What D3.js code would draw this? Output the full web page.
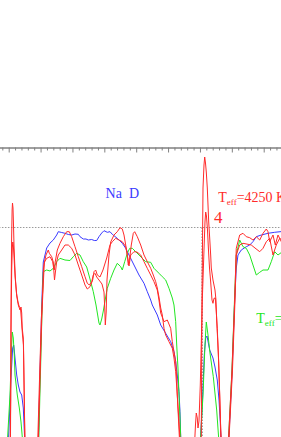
<!DOCTYPE html>
<html>
<head>
<meta charset="utf-8">
<script src="https://cdn.jsdelivr.net/npm/d3@7"></script>
<style>
  body { margin: 0; background: #fff; }
  svg { display: block; }
</style>
</head>
<body>
<svg id="chart" width="281" height="437"></svg>
<script>
// spectra around Na D, [wavelength (A), normalised flux]
const blueSpec = [
  [5887.994,-0.06],[5888.072,0.2475],[5888.125,0.3975],[5888.157,0.4125],[5888.198,0.3475],
  [5888.251,0.2625],[5888.301,0.2125],[5888.355,0.1775],[5888.408,0.1625],[5888.458,0.0975],
  [5888.502,-0.06],[5888.935,-0.06],[5888.976,0.2375],[5889.042,0.6375],[5889.085,0.8275],
  [5889.192,0.8975],[5889.296,0.9225],[5889.399,0.9375],[5889.506,0.9625],[5889.556,0.979],
  [5889.663,0.975],[5889.766,0.971],[5889.870,0.965],[5889.976,0.9625],[5890.080,0.9675],
  [5890.184,0.966],[5890.237,0.954],[5890.340,0.9425],[5890.425,0.9425],[5890.497,0.9375],
  [5890.604,0.94],[5890.685,0.935],[5890.761,0.935],[5890.833,0.954],[5890.918,0.9725],
  [5890.990,0.984],[5891.093,0.976],[5891.178,0.979],[5891.250,0.966],[5891.407,0.946],
  [5891.564,0.921],[5891.671,0.896],[5891.774,0.8625],[5891.931,0.8125],[5892.088,0.7625],
  [5892.245,0.721],[5892.348,0.679],[5892.455,0.6375],[5892.505,0.6125],[5892.662,0.5625],
  [5892.769,0.5125],[5892.925,0.471],[5893.082,0.429],[5893.186,0.379],[5893.239,0.329],
  [5893.289,0.2625],[5893.343,0.179],[5893.374,0.079],[5893.399,-0.06],[5894.017,-0.06],
  [5894.080,0.1375],[5894.136,0.3625],[5894.180,0.4475],[5894.221,0.4575],[5894.306,0.3875],
  [5894.409,0.3475],[5894.472,0.3025],[5894.544,0.2375],[5894.598,0.1375],[5894.638,0.0275],
  [5894.660,-0.06],[5894.905,-0.06],[5895.012,0.2875],[5895.090,0.6375],[5895.140,0.7975],
  [5895.194,0.8625],[5895.297,0.8875],[5895.454,0.904],[5895.561,0.9125],[5895.664,0.929],
  [5895.768,0.954],[5895.925,0.9625],[5896.135,0.971],[5896.345,0.976],[5896.574,0.98]
];

const greenSpec = [
  [5887.962,-0.06],[5888.041,0.1625],[5888.094,0.4125],[5888.113,0.4775],[5888.144,0.4475],
  [5888.176,0.3625],[5888.198,0.2625],[5888.270,0.1625],[5888.333,0.0975],[5888.386,0.0275],
  [5888.433,-0.06],[5888.944,-0.06],[5888.991,0.2375],[5889.054,0.6375],[5889.085,0.779],
  [5889.192,0.7875],[5889.296,0.7825],[5889.399,0.796],[5889.506,0.829],[5889.609,0.846],
  [5889.766,0.8375],[5889.923,0.835],[5890.027,0.854],[5890.133,0.871],[5890.237,0.8625],
  [5890.340,0.829],[5890.447,0.8025],[5890.551,0.7425],[5890.654,0.679],[5890.739,0.6125],
  [5890.833,0.5225],[5890.864,0.5125],[5890.918,0.5425],[5890.968,0.5825],[5891.043,0.6525],
  [5891.093,0.696],[5891.200,0.746],[5891.304,0.7875],[5891.407,0.821],[5891.514,0.804],
  [5891.564,0.7875],[5891.639,0.829],[5891.721,0.871],[5891.796,0.896],[5891.878,0.896],
  [5891.984,0.879],[5892.088,0.8625],[5892.191,0.846],[5892.298,0.829],[5892.455,0.826],
  [5892.558,0.796],[5892.715,0.771],[5892.819,0.754],[5892.925,0.7375],[5893.029,0.696],
  [5893.133,0.6475],[5893.186,0.6125],[5893.239,0.529],[5893.271,0.4125],[5893.311,0.2975],
  [5893.343,0.1625],[5893.374,0.0475],[5893.399,-0.06],[5894.017,-0.06],[5894.096,0.1625],
  [5894.158,0.4125],[5894.199,0.5275],[5894.253,0.4625],[5894.315,0.3725],[5894.419,0.254],
  [5894.525,0.0875],[5894.576,-0.0275],[5894.591,-0.06],[5894.896,-0.06],[5895.005,0.2875],
  [5895.084,0.6375],[5895.140,0.8625],[5895.247,0.9375],[5895.351,0.904],[5895.454,0.896],
  [5895.561,0.8625],[5895.664,0.8125],[5895.768,0.7625],[5895.875,0.776],[5895.978,0.7875],
  [5896.135,0.7875],[5896.238,0.829],[5896.345,0.879],[5896.449,0.8625],[5896.574,0.8775]
];

const redSpecA = [
  [5888.047,-0.06],[5888.063,0.1375],[5888.075,0.6375],[5888.091,0.9375],[5888.107,1.0875],
  [5888.119,1.1225],[5888.135,1.0975],[5888.151,1.0125],[5888.166,0.9125],[5888.188,0.8225],
  [5888.213,0.7375],[5888.251,0.6575],[5888.301,0.6125],[5888.355,0.5875],[5888.386,0.6025],
  [5888.408,0.5725],[5888.424,0.4975],[5888.458,0.4475],[5888.480,0.2375],[5888.499,0.0375],
  [5888.511,-0.06],[5888.913,-0.06],[5888.966,0.2375],[5889.023,0.5375],[5889.067,0.6875],
  [5889.092,0.7975],[5889.123,0.8275],[5889.192,0.846],[5889.296,0.854],[5889.380,0.829],
  [5889.405,0.8025],[5889.431,0.7875],[5889.459,0.8275],[5889.525,0.8875],[5889.609,0.921],
  [5889.713,0.954],[5889.820,0.979],[5889.901,0.979],[5889.976,0.954],[5890.080,0.904],
  [5890.184,0.854],[5890.290,0.804],[5890.394,0.754],[5890.466,0.721],[5890.529,0.7125],
  [5890.604,0.729],[5890.654,0.7625],[5890.707,0.771],[5890.761,0.7525],[5890.833,0.7375],
  [5890.927,0.7175],[5890.990,0.6775],[5891.015,0.5875],[5891.031,0.5125],[5891.059,0.5775],
  [5891.084,0.7375],[5891.147,0.8625],[5891.200,0.9275],[5891.304,0.9625],[5891.407,0.979],
  [5891.492,0.999],[5891.564,0.9925],[5891.617,0.9625],[5891.671,0.9125],[5891.721,0.8625],
  [5891.752,0.8125],[5891.796,0.8475],[5891.846,0.9125],[5891.909,0.971],[5891.953,0.979],
  [5892.035,0.954],[5892.141,0.9125],[5892.245,0.8625],[5892.348,0.829],[5892.455,0.796],
  [5892.536,0.7625],[5892.612,0.729],[5892.662,0.6975],[5892.715,0.6525],[5892.769,0.5975],
  [5892.819,0.5625],[5892.872,0.496],[5892.925,0.4625],[5893.029,0.429],[5893.133,0.396],
  [5893.186,0.3475],[5893.239,0.279],[5893.289,0.1625],[5893.343,-0.0125],[5893.358,-0.06],
  [5894.042,-0.06],[5894.064,0.6375],[5894.096,1.1975],[5894.127,1.3125],[5894.149,1.3525],
  [5894.174,1.3225],[5894.199,1.2775],[5894.231,1.1975],[5894.253,1.1125],[5894.275,1.0275],
  [5894.306,0.9475],[5894.337,0.8625],[5894.356,0.7975],[5894.409,0.7375],[5894.472,0.6875],
  [5894.503,0.6375],[5894.525,0.5375],[5894.576,0.3725],[5894.620,0.1625],[5894.651,-0.0125],
  [5894.667,-0.06],[5894.896,-0.06],[5895.005,0.2875],[5895.090,0.6375],[5895.140,0.896],
  [5895.247,0.9625],[5895.351,0.971],[5895.454,0.954],[5895.561,0.949],[5895.664,0.9375],
  [5895.768,0.954],[5895.875,0.9375],[5895.978,0.971],[5896.082,0.9925],[5896.135,0.979],
  [5896.188,0.929],[5896.292,0.9625],[5896.364,0.9125],[5896.449,0.9625],[5896.574,0.9225]
];

const redSpecB = [
  [5888.056,-0.06],[5888.072,0.4875],[5888.094,0.7875],[5888.113,0.8975],[5888.129,0.9275],
  [5888.144,0.9125],[5888.166,0.8575],[5888.198,0.7575],[5888.245,0.6725],[5888.292,0.6275],
  [5888.333,0.6025],[5888.370,0.5975],[5888.395,0.5475],[5888.433,0.4625],[5888.464,0.4125],
  [5888.489,0.1375],[5888.505,-0.06],[5888.929,-0.06],[5888.982,0.2375],[5889.035,0.5375],
  [5889.076,0.6875],[5889.117,0.8225],[5889.170,0.8625],[5889.242,0.8875],[5889.274,0.871],
  [5889.349,0.854],[5889.399,0.8275],[5889.421,0.7725],[5889.437,0.7375],[5889.462,0.7725],
  [5889.506,0.829],[5889.556,0.8625],[5889.663,0.8875],[5889.766,0.9125],[5889.870,0.9125],
  [5889.976,0.896],[5890.080,0.8625],[5890.184,0.8125],[5890.290,0.7625],[5890.394,0.7125],
  [5890.466,0.6925],[5890.551,0.704],[5890.635,0.7375],[5890.676,0.779],[5890.729,0.7875],
  [5890.780,0.7625],[5890.864,0.7525],[5890.958,0.7875],[5891.075,0.8475],[5891.178,0.9125],
  [5891.250,0.929],[5891.357,0.946],[5891.460,0.9375],[5891.564,0.929],[5891.671,0.904],
  [5891.721,0.8625],[5891.774,0.8075],[5891.827,0.8625],[5891.931,0.879],[5892.025,0.8775],
  [5892.141,0.8625],[5892.245,0.829],[5892.348,0.796],[5892.455,0.7625],[5892.558,0.729],
  [5892.662,0.6875],[5892.715,0.6375],[5892.769,0.5725],[5892.872,0.529],[5892.976,0.5375],
  [5893.082,0.496],[5893.133,0.429],[5893.186,0.379],[5893.239,0.329],[5893.271,0.2475],
  [5893.289,0.1625],[5893.343,0.029],[5893.374,-0.06],[5893.838,-0.06],[5893.860,0.0125],
  [5893.885,0.0725],[5893.917,0.0475],[5893.939,-0.0025],[5893.970,0.0325],[5894.011,0.2125],
  [5894.074,0.6375],[5894.127,0.8875],[5894.158,1.0275],[5894.180,1.0775],[5894.205,1.0575],
  [5894.237,0.9875],[5894.268,0.8875],[5894.300,0.7975],[5894.337,0.7275],[5894.378,0.6375],
  [5894.409,0.621],[5894.441,0.646],[5894.482,0.6475],[5894.513,0.5775],[5894.544,0.496],
  [5894.588,0.329],[5894.620,0.1625],[5894.651,-0.0025],[5894.660,-0.06],[5894.911,-0.06],
  [5895.021,0.2875],[5895.100,0.6375],[5895.140,0.8625],[5895.247,0.9125],[5895.351,0.921],
  [5895.507,0.916],[5895.611,0.9125],[5895.727,0.8975],[5895.875,0.879],[5895.978,0.896],
  [5896.082,0.929],[5896.188,0.946],[5896.292,0.8625],[5896.395,0.9125],[5896.502,0.946],
  [5896.574,0.9375]
];

const majorTicks = d3.range(5888, 5897, 1);
const minorTicks = d3.range(5887.8, 5896.5, 0.2).filter(v => Math.abs(v - Math.round(v)) > 0.01);
const continuum = 1.0;
const markWave = 5894.07;

const svg = d3.select("#chart");

const x = d3.scaleLinear().domain([5887.6, 5896.7]).range([-4.05, 286.0]);
const y = d3.scaleLinear().domain([0, 1.4]).range([427.5, 147.5]);

svg.append("defs").append("clipPath").attr("id", "plot")
  .append("rect").attr("x", 0).attr("y", y(1.4)).attr("width", 281).attr("height", 300);

// top axis of the panel, ticks point inward
const axisColor = "#808080";
const minorAxis = svg.append("g").attr("transform", `translate(0,${y(1.4)})`)
  .call(d3.axisBottom(x).tickValues(minorTicks).tickSize(3).tickSizeOuter(0).tickFormat(""));
const majorAxis = svg.append("g").attr("transform", `translate(0,${y(1.4)})`)
  .call(d3.axisBottom(x).tickValues(majorTicks).tickSize(5).tickSizeOuter(0).tickFormat(""));
[minorAxis, majorAxis].forEach(g => {
  g.selectAll("path, line").attr("stroke", axisColor).attr("stroke-width", 1);
});

// dotted reference lines
svg.append("line")
  .attr("x1", x(5887.6)).attr("x2", x(5896.7))
  .attr("y1", y(continuum)).attr("y2", y(continuum))
  .attr("stroke", "#9a9a9a").attr("stroke-width", 1).attr("stroke-dasharray", "1.5,1.5");
svg.append("line")
  .attr("x1", x(markWave)).attr("x2", x(markWave))
  .attr("y1", y(continuum)).attr("y2", y(-0.1))
  .attr("stroke", "#9a9a9a").attr("stroke-width", 1.5).attr("stroke-dasharray", "1.5,1.5");

const line = d3.line().x(d => x(d[0])).y(d => y(d[1]));

const series = [
  { data: blueSpec, color: "#3a3aff" },
  { data: greenSpec, color: "#22e622" },
  { data: redSpecB, color: "#ff2a2a" },
  { data: redSpecA, color: "#ff2a2a" }
];

svg.append("g").attr("clip-path", "url(#plot)")
  .selectAll("path").data(series).join("path")
  .attr("d", d => line(d.data))
  .attr("fill", "none")
  .attr("stroke", d => d.color)
  .attr("stroke-width", 1);

// labels
const serif = "'Liberation Serif', 'DejaVu Serif', serif";

svg.append("text")
  .attr("x", x(5891.04)).attr("y", y(1.146))
  .attr("font-family", serif).attr("font-size", 14)
  .attr("fill", "#3a3aff").style("white-space", "pre")
  .text("Na  D");

const redLabel = svg.append("text")
  .attr("x", x(5894.576)).attr("y", y(1.13))
  .attr("font-family", serif).attr("font-size", 14).attr("fill", "#ff2a2a");
redLabel.append("tspan").text("T");
redLabel.append("tspan").attr("font-size", 9).attr("dy", 3).text("eff");
redLabel.append("tspan").attr("dy", -3).text("=4250 K");

svg.append("text")
  .attr("x", x(5894.44)).attr("y", y(1.024))
  .attr("font-family", serif).attr("font-size", 17).attr("fill", "#ff2a2a")
  .text("4");

const greenLabel = svg.append("text")
  .attr("x", x(5895.768)).attr("y", y(0.521))
  .attr("font-family", serif).attr("font-size", 14).attr("fill", "#22e622");
greenLabel.append("tspan").text("T");
greenLabel.append("tspan").attr("font-size", 9).attr("dy", 3).text("eff");
greenLabel.append("tspan").attr("dy", -3).text("=4250 K");
</script>
</body>
</html>
